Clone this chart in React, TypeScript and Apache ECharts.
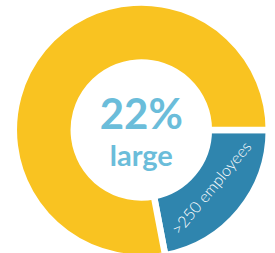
import React, { useEffect, useRef } from "react";
import * as echarts from "echarts";

const categories = [">250 employees", "other"];
const values = [22, 78];
const colors = ["#2F85AE", "#F9C321"];
const centerLabel = "large";

export default function App() {
  const ref = useRef<HTMLDivElement>(null);
  useEffect(() => {
    document.body.style.margin = "0";
    const chart = echarts.init(ref.current!, undefined, { renderer: "svg" });
    const total = values.reduce((a, b) => a + b, 0);
    const pct = Math.round((values[0] / total) * 100) + "%";
    const data = categories.map((c, i) => ({
      name: c,
      value: values[i],
      itemStyle: { color: colors[i] },
    }));
    chart.setOption({
      animation: false,
      series: [
        {
          type: "pie",
          center: [141.3, 130],
          radius: [67.5, 127.5],
          startAngle: 0,
          clockwise: true,
          silent: true,
          label: { show: false },
          labelLine: { show: false },
          itemStyle: { borderColor: "#ffffff", borderWidth: 6.5 },
          emphasis: { disabled: true },
          data,
        },
        {
          type: "pie",
          center: [141.3, 130],
          radius: [67.5, 106.5],
          startAngle: 0,
          clockwise: true,
          silent: true,
          labelLine: { show: false },
          itemStyle: { color: "transparent" },
          emphasis: { disabled: true },
          label: {
            show: true,
            position: "inside",
            rotate: "tangential",
            color: "#ffffff",
            fontFamily: "Lato",
            fontWeight: 300,
            fontSize: 16,
            formatter: (p: any) => (p.dataIndex === 0 ? p.name : ""),
          },
          data: categories.map((c, i) => ({ name: c, value: values[i] })),
        },
      ],
      graphic: [
        {
          type: "text",
          x: 141.3,
          y: 113,
          style: {
            text: pct,
            fill: "#6BBDDA",
            font: "bold 42px Lato",
            align: "center",
            verticalAlign: "middle",
          },
        },
        {
          type: "text",
          x: 141.3,
          y: 154,
          style: {
            text: centerLabel,
            fill: "#6BBDDA",
            font: "bold 29px Lato",
            align: "center",
            verticalAlign: "middle",
          },
        },
      ],
    });
    return () => chart.dispose();
  }, []);
  return <div ref={ref} style={{ width: 275, height: 253 }} />;
}
